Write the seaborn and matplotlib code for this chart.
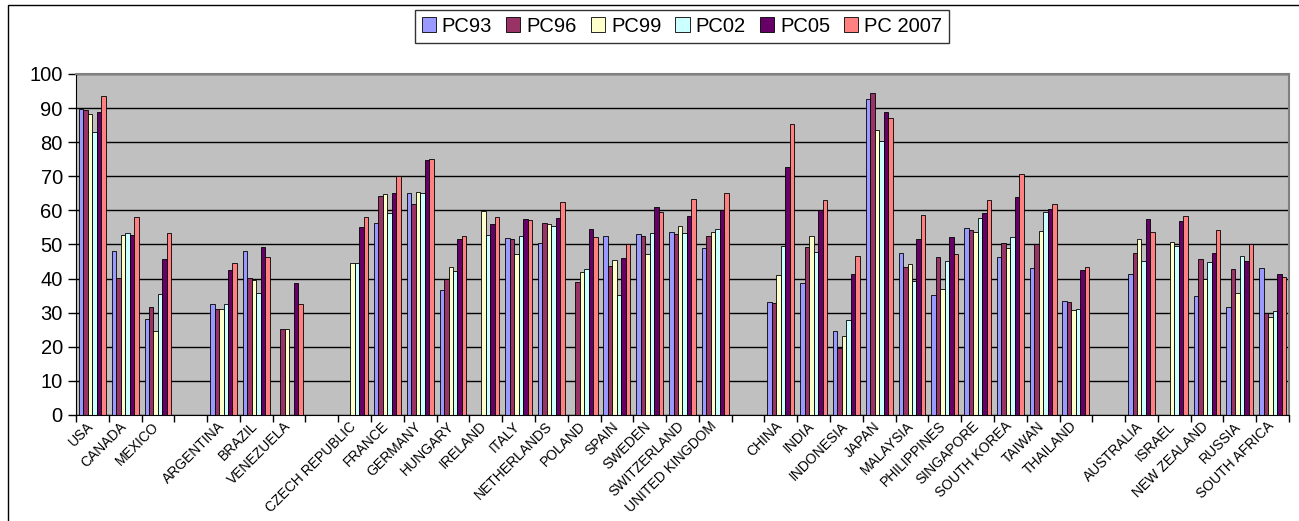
import numpy as np
import pandas as pd
import matplotlib
matplotlib.use('Agg')
import matplotlib.pyplot as plt
import matplotlib.transforms as mtrans
import seaborn as sns
from matplotlib.patches import Rectangle, Patch

# categories (blank strings are the gaps between regions)
categories = ['USA', 'CANADA', 'MEXICO', ' ',
              'ARGENTINA', 'BRAZIL', 'VENEZUELA', '  ',
              'CZECH REPUBLIC', 'FRANCE', 'GERMANY', 'HUNGARY', 'IRELAND', 'ITALY',
              'NETHERLANDS', 'POLAND', 'SPAIN', 'SWEDEN', 'SWITZERLAND', 'UNITED KINGDOM', '   ',
              'CHINA', 'INDIA', 'INDONESIA', 'JAPAN', 'MALAYSIA', 'PHILIPPINES',
              'SINGAPORE', 'SOUTH KOREA', 'TAIWAN', 'THAILAND', '    ',
              'AUSTRALIA', 'ISRAEL', 'NEW ZEALAND', 'RUSSIA', 'SOUTH AFRICA']

series = ['PC93', 'PC96', 'PC99', 'PC02', 'PC05', 'PC 2007']
colors = ['#9999FF', '#993366', '#FFFFCC', '#CCFFFF', '#660066', '#FF8080']

nan = np.nan
pc93 = [89.7, 48.2, 28.0, nan, 32.4, 48.2, nan, nan, nan, 56.2, 65.0, 36.7, nan, 51.8, 50.5, nan,
        52.6, 53.0, 53.6, 49.0, nan, 33.0, 38.6, 24.7, 92.8, 47.6, 35.1, 54.7, 46.2, 43.0, 33.4, nan,
        41.3, nan, 34.8, 31.8, 43.0]
pc96 = [89.4, 40.3, 31.7, nan, 31.0, 40.3, 25.1, nan, nan, 64.1, 61.8, 40.0, nan, 51.5, 56.2, 39.0,
        43.7, 52.6, 53.0, 52.6, nan, 32.7, 49.2, 19.6, 94.4, 43.3, 46.2, 54.2, 50.5, 50.0, 33.0, nan,
        47.6, nan, 45.7, 42.7, 30.0]
pc99 = [88.2, 52.9, 24.7, nan, 31.0, 39.6, 25.1, nan, 44.7, 64.7, 65.4, 43.3, 59.8, 47.2, 56.1, 41.9,
        45.4, 47.2, 55.5, 53.6, nan, 41.0, 52.6, 23.2, 83.6, 44.3, 36.8, 53.6, 48.9, 53.9, 30.8, nan,
        51.5, 50.6, 39.9, 35.7, 28.6]
pc02 = [82.9, 53.3, 35.4, nan, 32.4, 35.7, nan, nan, 44.7, 59.3, 65.0, 42.3, 52.8, 52.5, 55.4, 42.7,
        35.1, 53.3, 53.3, 54.4, nan, 49.6, 47.9, 27.8, 80.4, 39.3, 45.1, 57.9, 52.2, 59.4, 31.1, nan,
        45.3, 49.6, 45.0, 46.6, 30.5]
pc05 = [88.8, 52.9, 45.8, nan, 42.6, 49.2, 38.6, nan, 55.2, 65.1, 74.7, 51.5, 55.9, 57.4, 57.9, 54.4,
        45.9, 60.9, 58.3, 60.1, nan, 72.7, 60.1, 41.3, 88.8, 51.5, 52.2, 59.1, 63.8, 60.4, 42.6, nan,
        57.5, 56.8, 47.6, 45.3, 41.3]
pc07 = [93.4, 58.2, 53.5, nan, 44.7, 46.4, 32.4, nan, 58.2, 70.0, 75.0, 52.5, 58.2, 57.1, 62.5, 52.2,
        50.0, 59.5, 63.4, 65.1, nan, 85.2, 63.0, 46.5, 87.2, 58.6, 47.2, 63.0, 70.6, 61.8, 43.3, nan,
        53.6, 58.3, 54.3, 50.0, 40.4]

values = [pc93, pc96, pc99, pc02, pc05, pc07]

#----------------------------------------------------
# long table for seaborn
rows = []
for s, vals in zip(series, values):
    for c, v in zip(categories, vals):
        rows.append((c, s, v))
df = pd.DataFrame(rows, columns=['country', 'series', 'value'])

plt.rcParams['font.family'] = ['Liberation Sans', 'DejaVu Sans']

fig = plt.figure(figsize=(12.99, 5.21), dpi=100)
ax = fig.add_axes([0.0585, 0.2035, 0.9338, 0.6545])
ax.set_facecolor('#C0C0C0')

sns.barplot(data=df, x='country', y='value', hue='series', order=categories,
            hue_order=series, palette=colors, saturation=1, width=0.82,
            edgecolor='black', linewidth=0.6, legend=False, ax=ax)

ax.set_ylim(0, 100)
ax.set_xlim(-0.5, len(categories) - 0.5)
ax.set_yticks(range(0, 101, 10))
ax.yaxis.grid(True, color='black', linewidth=1)
ax.set_axisbelow(True)
ax.tick_params(axis='y', labelsize=14.5, length=6, width=1, direction='out')

# labels at slot centres, tick marks at slot borders
ax.set_xticks(range(len(categories)))
ax.set_xticklabels(categories, rotation=45, ha='right', rotation_mode='anchor', fontsize=10)
ax.tick_params(axis='x', which='major', length=0, pad=3)
ax.set_xticks(np.arange(-0.5, len(categories), 1), minor=True)
ax.tick_params(axis='x', which='minor', length=5, width=1, direction='out')
shift = mtrans.ScaledTranslation(-6 / 100, 0, fig.dpi_scale_trans)
for lab in ax.get_xticklabels():
    lab.set_transform(lab.get_transform() + shift)
ax.set_xlabel('')
ax.set_ylabel('')

ax.spines['top'].set_color('#808080')
ax.spines['top'].set_linewidth(1.5)
ax.spines['right'].set_color('#808080')
ax.spines['right'].set_linewidth(1.5)
ax.spines['left'].set_color('black')
ax.spines['bottom'].set_color('black')

# legend on top
handles = [Patch(facecolor=c, edgecolor='black', linewidth=0.6) for c in colors]
leg = fig.legend(handles, series, loc='center', bbox_to_anchor=(0.525, 0.95), ncol=6,
                 frameon=True, fancybox=False, edgecolor='black', fontsize=14.5,
                 handlelength=0.7, handleheight=0.7, handletextpad=0.3,
                 columnspacing=0.7, borderpad=0.35)
leg.get_frame().set_linewidth(1)

# chart border
fig.add_artist(Rectangle((8 / 1299, -0.05), 1.1, 0.9904 + 0.05, transform=fig.transFigure,
                         fill=False, edgecolor='black', linewidth=1, clip_on=False))

fig.savefig('out.png', dpi=100)
